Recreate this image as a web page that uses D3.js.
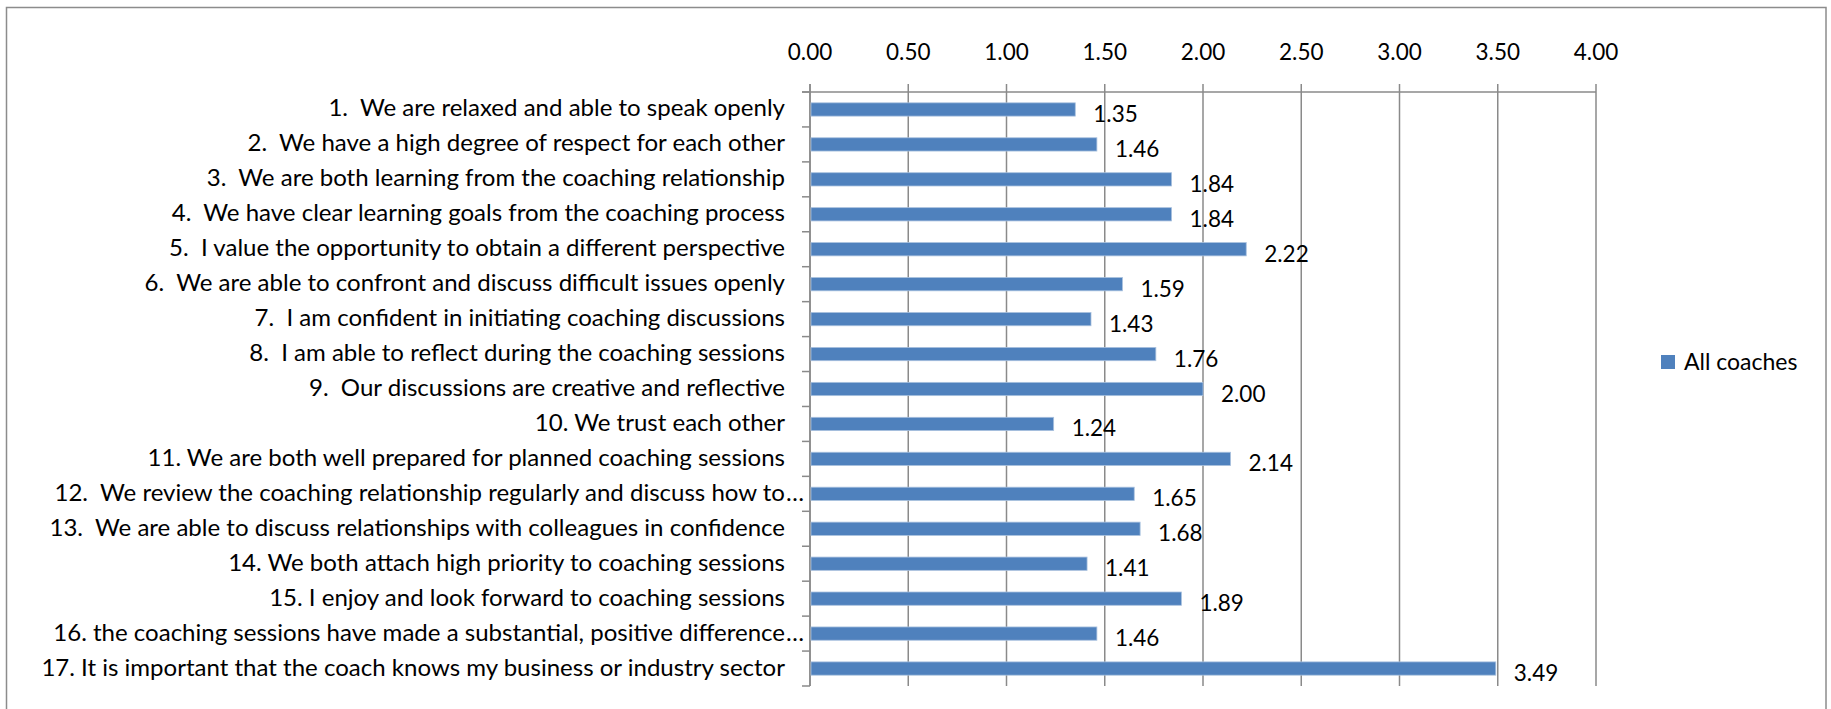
<!DOCTYPE html>
<html>
<head>
<meta charset="utf-8">
<script src="https://cdn.jsdelivr.net/npm/d3@7"></script>
<style>
  html, body { margin: 0; padding: 0; background: #fff; }
  svg { display: block; }
  text { font-family: Lato, "Open Sans", sans-serif; fill: #000; }
</style>
</head>
<body>
<svg id="chart" width="1831" height="709"></svg>
<script>
const categories = [
  "1.  We are relaxed and able to speak openly",
  "2.  We have a high degree of respect for each other",
  "3.  We are both learning from the coaching relationship",
  "4.  We have clear learning goals from the coaching process",
  "5.  I value the opportunity to obtain a different perspective",
  "6.  We are able to confront and discuss difficult issues openly",
  "7.  I am confident in initiating coaching discussions",
  "8.  I am able to reflect during the coaching sessions",
  "9.  Our discussions are creative and reflective",
  "10. We trust each other",
  "11. We are both well prepared for planned coaching sessions",
  "12.  We review the coaching relationship regularly and discuss how to…",
  "13.  We are able to discuss relationships with colleagues in confidence",
  "14. We both attach high priority to coaching sessions",
  "15. I enjoy and look forward to coaching sessions",
  "16. the coaching sessions have made a substantial, positive difference…",
  "17. It is important that the coach knows my business or industry sector"
];
const values = [1.35, 1.46, 1.84, 1.84, 2.22, 1.59, 1.43, 1.76, 2.00, 1.24, 2.14, 1.65, 1.68, 1.41, 1.89, 1.46, 3.49];
const tickValues = [0, 0.5, 1, 1.5, 2, 2.5, 3, 3.5, 4];
const seriesName = "All coaches";

const svg = d3.select("#chart");

// outer frame
svg.append("rect")
  .attr("x", 6.5).attr("y", 7.5).attr("width", 1819.5).attr("height", 720)
  .attr("fill", "#fff").attr("stroke", "#8c8c8c").attr("stroke-width", 1.5);

const x = d3.scaleLinear().domain([0, 4]).range([810, 1596]);
const y = d3.scaleBand().domain(categories).range([92, 686]).paddingInner(0.62).paddingOuter(0.31);

const gridColor = "#8a8a8a";

// vertical gridlines (extend above axis as outer tick marks)
svg.append("g").selectAll("line").data(tickValues).join("line")
  .attr("x1", d => x(d)).attr("x2", d => x(d))
  .attr("y1", 84).attr("y2", 686)
  .attr("stroke", gridColor).attr("stroke-width", 1.5);

// top axis line
svg.append("line")
  .attr("x1", x(0) - 8).attr("x2", x(4))
  .attr("y1", 92).attr("y2", 92)
  .attr("stroke", gridColor).attr("stroke-width", 1.5);

// left axis line
svg.append("line")
  .attr("x1", x(0)).attr("x2", x(0))
  .attr("y1", 84).attr("y2", 686)
  .attr("stroke", gridColor).attr("stroke-width", 1.5);

// left tick marks at band boundaries
const step = y.step();
const boundaries = categories.map(c => y(c) - step * y.paddingInner() / 2);
boundaries.push(y(categories[categories.length - 1]) + y.bandwidth() + step * y.paddingInner() / 2);
svg.append("g").selectAll("line").data(boundaries).join("line")
  .attr("x1", x(0) - 8).attr("x2", x(0))
  .attr("y1", d => d).attr("y2", d => d)
  .attr("stroke", gridColor).attr("stroke-width", 1.5);

// tick labels
svg.append("g").selectAll("text").data(tickValues).join("text")
  .attr("x", d => x(d)).attr("y", 60)
  .attr("text-anchor", "middle")
  .style("font-size", "22.5px")
  .text(d => d3.format(".2f")(d));

// bars
svg.append("g").selectAll("rect").data(values).join("rect")
  .attr("x", x(0) + 1)
  .attr("y", (d, i) => y(categories[i]))
  .attr("width", d => x(d) - x(0) - 1)
  .attr("height", y.bandwidth())
  .attr("fill", "#4f81bd")
  .attr("stroke", "#a9c1de").attr("stroke-width", 0.8);

// data labels
svg.append("g").selectAll("text").data(values).join("text")
  .attr("x", d => x(d) + 18)
  .attr("y", (d, i) => y(categories[i]) + y.bandwidth() / 2 + 12.5)
  .style("font-size", "22.5px")
  .text(d => d3.format(".2f")(d));

// category labels
const labelRight = 785;
const lg = svg.append("g");
const labels = lg.selectAll("text").data(categories).join("text")
  .attr("x", labelRight)
  .attr("y", d => y(d) + y.bandwidth() / 2 + 7)
  .attr("text-anchor", "end")
  .style("font-size", "18px")
  .style("white-space", "pre")
  .attr("xml:space", "preserve")
  .text(d => d.endsWith("…") ? d.slice(0, -1) : d);

// fit font size so longest full label spans target width
const ref = labels.filter((d, i) => i === 16).node();
const w = ref.getComputedTextLength();
const fs = 18 * 744 / w;
labels.style("font-size", fs + "px");

// ellipsis after truncated labels
lg.selectAll("text.ell").data(categories.filter(d => d.endsWith("…"))).join("text")
  .attr("class", "ell")
  .attr("x", labelRight + 1)
  .attr("y", d => y(d) + y.bandwidth() / 2 + 7)
  .style("font-size", fs + "px")
  .text("…");

// legend
svg.append("rect")
  .attr("x", 1661).attr("y", 355).attr("width", 14).attr("height", 14)
  .attr("fill", "#4f81bd");
svg.append("text")
  .attr("x", 1684).attr("y", 370)
  .style("font-size", "23px")
  .text(seriesName);
</script>
</body>
</html>
